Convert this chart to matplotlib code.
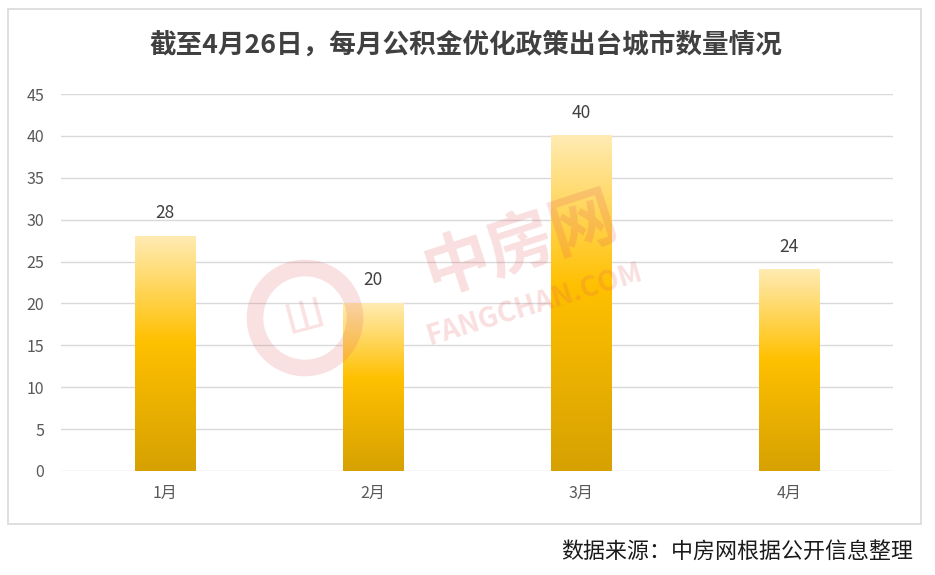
import matplotlib
matplotlib.use("Agg")
import matplotlib.pyplot as plt
import numpy as np
from matplotlib.colors import LinearSegmentedColormap
from matplotlib.patches import Rectangle, Ellipse

plt.rcParams['font.family'] = ['Noto Sans CJK SC', 'DejaVu Sans']

months = ["1月", "2月", "3月", "4月"]
cities = [28, 20, 40, 24]
yticks = [0, 5, 10, 15, 20, 25, 30, 35, 40, 45]
title = "截至4月26日，每月公积金优化政策出台城市数量情况"
source = "数据来源：中房网根据公开信息整理"

fig = plt.figure(figsize=(9.35, 5.75), dpi=100)
ax = fig.add_axes([0.0652, 0.1809, 0.8898, 0.6556])

# gradient bars (light top -> gold -> darker gold at bottom)
cmap = LinearSegmentedColormap.from_list(
    "gold", [(0, "#D6A102"), (0.55, "#FFC000"), (1, "#FFEBB3")])
grad = np.linspace(0, 1, 256).reshape(-1, 1)
w = 0.29
x = np.arange(len(months))
bars = ax.bar(x, cities, width=w, color="none", zorder=2)
for b, v in zip(bars, cities):
    x0 = b.get_x()
    ax.imshow(grad, cmap=cmap, origin="lower", aspect="auto",
              extent=(x0, x0 + w, 0, v), zorder=2)
    ax.text(b.get_x() + w / 2, v + 1.7, str(v), ha="center", va="bottom",
            fontsize=12.5, color="#404040")

ax.set_xlim(-0.5, 3.5)
ax.set_ylim(0, 45)
ax.set_yticks(yticks)
ax.set_xticks(x)
ax.set_xticklabels(months)
ax.yaxis.grid(True, color="#D9D9D9", lw=1, zorder=0)
ax.set_axisbelow(True)
for s in ax.spines.values():
    s.set_visible(False)
ax.tick_params(length=0, labelsize=11.5, colors="#595959")
ax.tick_params(axis="y", pad=12)
ax.tick_params(axis="x", pad=10)

# watermark
wm = "#E35D5D"
fig.patches.append(Ellipse((305 / 935, 1 - 318 / 575), 100 / 935, 100 / 575,
                           transform=fig.transFigure, fill=False, ec=wm, lw=12,
                           alpha=0.18, zorder=5))
fig.text(305 / 935, 1 - 318 / 575, "Ш", fontsize=30, color=wm, alpha=0.18,
         rotation=15, ha="center", va="center", zorder=5)
fig.text(520 / 935, 1 - 245 / 575, "中房网", fontsize=48, color=wm, alpha=0.2,
         rotation=18, ha="center", va="center", fontweight="bold", zorder=5)
fig.text(535 / 935, 1 - 305 / 575, "FANGCHAN.COM", fontsize=20, color=wm, alpha=0.2,
         rotation=17, ha="center", va="center", fontweight="bold", zorder=5)

# border and texts
fig.patches.append(Rectangle((8 / 935, 1 - 524 / 575), 913 / 935, 515 / 575,
                             transform=fig.transFigure, fill=False, ec="#D9D9D9", lw=1.2))
fig.text(466 / 935, 1 - 45 / 575, title, ha="center", va="center", fontsize=19.2,
         fontweight="bold", color="#404040")
fig.text(913 / 935, 1 - 552 / 575, source, ha="right", va="center", fontsize=15.8,
         color="#1a1a1a")

fig.savefig("out.png", dpi=100)
